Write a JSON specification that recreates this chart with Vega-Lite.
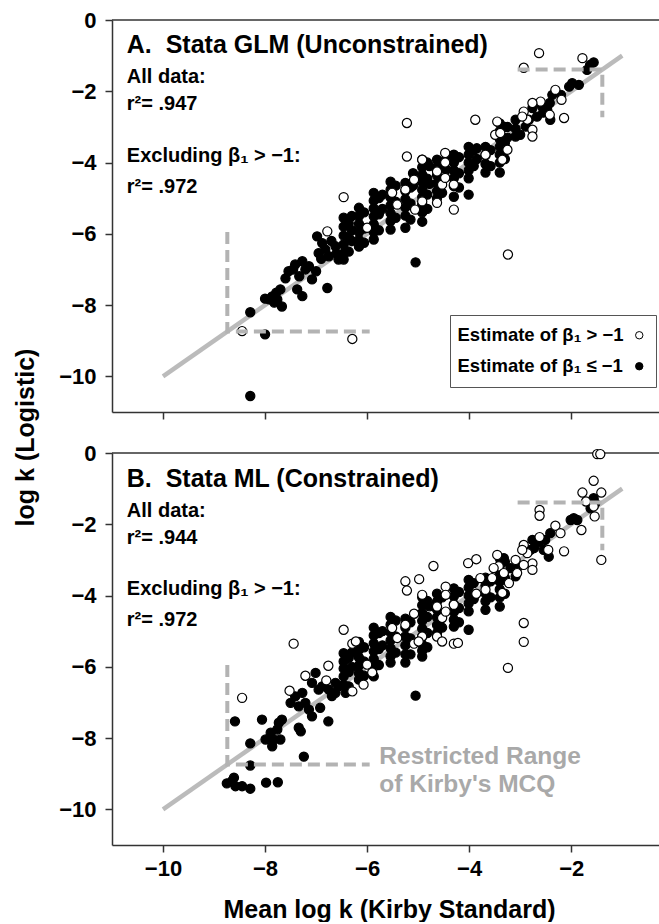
{
"$schema":"https://vega.github.io/schema/vega-lite/v6.json",
"padding":{"left":13,"top":9,"right":0,"bottom":0},
"spacing":41,
"bounds":"flush",
"datasets":{
"diag":[{"x":-10,"y":-10},{"x":-1,"y":-1}],
"range":[{"seg":"lo","i":0,"x":-8.74,"y":-5.95},{"seg":"lo","i":1,"x":-8.74,"y":-8.74},{"seg":"lo","i":2,"x":-5.95,"y":-8.74},{"seg":"hi","i":0,"x":-3.05,"y":-1.39},{"seg":"hi","i":1,"x":-1.39,"y":-1.39},{"seg":"hi","i":2,"x":-1.39,"y":-2.73}],
"ptsA":[
{"x":-8.29,"y":-8.2,"b":"le"},{"x":-8.0,"y":-8.82,"b":"le"},{"x":-8.29,"y":-10.55,"b":"le"},{"x":-8.0,"y":-7.82,"b":"le"},{"x":-7.86,"y":-7.76,"b":"le"},{"x":-7.82,"y":-7.93,"b":"le"},{"x":-7.67,"y":-8.04,"b":"le"},{"x":-7.76,"y":-7.84,"b":"le"},{"x":-7.7,"y":-7.56,"b":"le"},{"x":-7.92,"y":-7.84,"b":"le"},{"x":-7.78,"y":-7.65,"b":"le"},
{"x":-7.54,"y":-7.05,"b":"le"},{"x":-7.41,"y":-6.86,"b":"le"},{"x":-7.27,"y":-6.77,"b":"le"},{"x":-7.21,"y":-7.0,"b":"le"},{"x":-7.33,"y":-7.19,"b":"le"},{"x":-7.08,"y":-7.28,"b":"le"},{"x":-7.37,"y":-7.56,"b":"le"},{"x":-7.27,"y":-7.75,"b":"le"},{"x":-7.14,"y":-6.91,"b":"le"},{"x":-7.45,"y":-7.0,"b":"le"},{"x":-7.6,"y":-7.25,"b":"le"},{"x":-7.0,"y":-7.05,"b":"le"},{"x":-6.78,"y":-7.52,"b":"le"},
{"x":-6.98,"y":-6.07,"b":"le"},{"x":-6.88,"y":-6.26,"b":"le"},{"x":-6.95,"y":-6.54,"b":"le"},{"x":-6.82,"y":-6.44,"b":"le"},{"x":-6.75,"y":-6.63,"b":"le"},{"x":-6.62,"y":-6.35,"b":"le"},{"x":-6.56,"y":-6.72,"b":"le"},{"x":-6.7,"y":-6.2,"b":"le"},{"x":-6.9,"y":-6.7,"b":"le"},{"x":-6.6,"y":-6.55,"b":"le"},
{"x":-6.46,"y":-5.55,"b":"le"},{"x":-6.46,"y":-5.8,"b":"le"},{"x":-6.46,"y":-6.05,"b":"le"},{"x":-6.46,"y":-6.3,"b":"le"},{"x":-6.46,"y":-6.55,"b":"le"},{"x":-6.46,"y":-6.72,"b":"le"},
{"x":-6.36,"y":-5.7,"b":"le"},{"x":-6.36,"y":-6.1,"b":"le"},{"x":-6.36,"y":-6.5,"b":"le"},
{"x":-6.3,"y":-5.5,"b":"le"},{"x":-6.3,"y":-5.9,"b":"le"},{"x":-6.3,"y":-6.2,"b":"le"},
{"x":-6.16,"y":-5.27,"b":"le"},{"x":-6.16,"y":-5.5,"b":"le"},{"x":-6.16,"y":-5.72,"b":"le"},{"x":-6.16,"y":-5.95,"b":"le"},{"x":-6.16,"y":-6.17,"b":"le"},{"x":-6.16,"y":-6.36,"b":"le"},
{"x":-6.06,"y":-5.4,"b":"le"},{"x":-6.06,"y":-5.85,"b":"le"},{"x":-6.06,"y":-6.25,"b":"le"},
{"x":-5.87,"y":-4.85,"b":"le"},{"x":-5.87,"y":-5.07,"b":"le"},{"x":-5.87,"y":-5.29,"b":"le"},{"x":-5.87,"y":-5.51,"b":"le"},{"x":-5.87,"y":-5.73,"b":"le"},{"x":-5.87,"y":-5.95,"b":"le"},{"x":-5.87,"y":-6.16,"b":"le"},
{"x":-5.77,"y":-5.0,"b":"le"},{"x":-5.77,"y":-5.45,"b":"le"},{"x":-5.77,"y":-5.9,"b":"le"},
{"x":-5.7,"y":-4.9,"b":"le"},{"x":-5.7,"y":-5.3,"b":"le"},
{"x":-5.54,"y":-4.54,"b":"le"},{"x":-5.54,"y":-4.76,"b":"le"},{"x":-5.54,"y":-4.98,"b":"le"},{"x":-5.54,"y":-5.2,"b":"le"},{"x":-5.54,"y":-5.42,"b":"le"},{"x":-5.54,"y":-5.64,"b":"le"},{"x":-5.54,"y":-5.88,"b":"le"},
{"x":-5.44,"y":-4.65,"b":"le"},{"x":-5.44,"y":-5.1,"b":"le"},{"x":-5.44,"y":-5.55,"b":"le"},
{"x":-5.25,"y":-4.57,"b":"le"},{"x":-5.25,"y":-4.8,"b":"le"},{"x":-5.25,"y":-5.03,"b":"le"},{"x":-5.25,"y":-5.26,"b":"le"},{"x":-5.25,"y":-5.49,"b":"le"},{"x":-5.25,"y":-5.83,"b":"le"},
{"x":-5.15,"y":-4.7,"b":"le"},{"x":-5.15,"y":-5.15,"b":"le"},{"x":-5.15,"y":-5.6,"b":"le"},
{"x":-5.1,"y":-4.3,"b":"le"},{"x":-5.1,"y":-4.65,"b":"le"},{"x":-5.05,"y":-6.8,"b":"le"},
{"x":-4.92,"y":-3.92,"b":"le"},{"x":-4.92,"y":-4.13,"b":"le"},{"x":-4.92,"y":-4.34,"b":"le"},{"x":-4.92,"y":-4.55,"b":"le"},{"x":-4.92,"y":-4.76,"b":"le"},{"x":-4.92,"y":-4.97,"b":"le"},{"x":-4.92,"y":-5.18,"b":"le"},{"x":-4.92,"y":-5.4,"b":"le"},{"x":-4.92,"y":-5.66,"b":"le"},
{"x":-4.82,"y":-4.0,"b":"le"},{"x":-4.82,"y":-4.45,"b":"le"},{"x":-4.82,"y":-4.9,"b":"le"},{"x":-4.82,"y":-5.3,"b":"le"},
{"x":-4.78,"y":-4.1,"b":"le"},{"x":-4.78,"y":-4.6,"b":"le"},
{"x":-4.63,"y":-3.92,"b":"le"},{"x":-4.63,"y":-4.14,"b":"le"},{"x":-4.63,"y":-4.36,"b":"le"},{"x":-4.63,"y":-4.58,"b":"le"},{"x":-4.63,"y":-4.8,"b":"le"},{"x":-4.63,"y":-5.0,"b":"le"},
{"x":-4.53,"y":-4.0,"b":"le"},{"x":-4.53,"y":-4.45,"b":"le"},{"x":-4.53,"y":-4.85,"b":"le"},
{"x":-4.45,"y":-3.9,"b":"le"},{"x":-4.45,"y":-4.2,"b":"le"},
{"x":-4.3,"y":-3.78,"b":"le"},{"x":-4.3,"y":-4.0,"b":"le"},{"x":-4.3,"y":-4.22,"b":"le"},{"x":-4.3,"y":-4.44,"b":"le"},{"x":-4.3,"y":-4.66,"b":"le"},{"x":-4.3,"y":-4.96,"b":"le"},
{"x":-4.2,"y":-3.85,"b":"le"},{"x":-4.2,"y":-4.3,"b":"le"},{"x":-4.2,"y":-4.7,"b":"le"},
{"x":-4.01,"y":-3.56,"b":"le"},{"x":-4.01,"y":-3.78,"b":"le"},{"x":-4.01,"y":-4.0,"b":"le"},{"x":-4.01,"y":-4.22,"b":"le"},{"x":-4.01,"y":-4.44,"b":"le"},{"x":-4.01,"y":-4.9,"b":"le"},
{"x":-3.91,"y":-3.65,"b":"le"},{"x":-3.91,"y":-4.1,"b":"le"},
{"x":-3.85,"y":-3.6,"b":"le"},{"x":-3.85,"y":-3.9,"b":"le"},
{"x":-3.68,"y":-3.56,"b":"le"},{"x":-3.68,"y":-3.8,"b":"le"},{"x":-3.68,"y":-4.04,"b":"le"},{"x":-3.68,"y":-4.28,"b":"le"},
{"x":-3.58,"y":-3.65,"b":"le"},{"x":-3.58,"y":-4.1,"b":"le"},
{"x":-3.4,"y":-2.9,"b":"le"},{"x":-3.4,"y":-3.12,"b":"le"},{"x":-3.4,"y":-3.34,"b":"le"},{"x":-3.4,"y":-3.56,"b":"le"},{"x":-3.4,"y":-3.78,"b":"le"},{"x":-3.4,"y":-4.0,"b":"le"},{"x":-3.4,"y":-4.28,"b":"le"},
{"x":-3.3,"y":-3.0,"b":"le"},{"x":-3.3,"y":-3.45,"b":"le"},{"x":-3.3,"y":-3.9,"b":"le"},
{"x":-3.25,"y":-3.0,"b":"le"},{"x":-3.25,"y":-3.3,"b":"le"},{"x":-3.09,"y":-2.8,"b":"le"},{"x":-3.09,"y":-3.05,"b":"le"},{"x":-3.09,"y":-3.27,"b":"le"},{"x":-2.83,"y":-2.8,"b":"le"},{"x":-2.89,"y":-2.99,"b":"le"},{"x":-3.0,"y":-3.22,"b":"le"},
{"x":-2.37,"y":-2.1,"b":"le"},{"x":-2.42,"y":-2.33,"b":"le"},{"x":-2.57,"y":-2.43,"b":"le"},{"x":-2.76,"y":-2.47,"b":"le"},{"x":-2.67,"y":-2.71,"b":"le"},{"x":-2.47,"y":-2.52,"b":"le"},{"x":-2.41,"y":-2.8,"b":"le"},{"x":-2.55,"y":-2.6,"b":"le"},{"x":-2.2,"y":-2.1,"b":"le"},
{"x":-1.98,"y":-1.77,"b":"le"},{"x":-1.85,"y":-1.82,"b":"le"},{"x":-2.04,"y":-1.87,"b":"le"},{"x":-1.56,"y":-1.19,"b":"le"},{"x":-1.69,"y":-1.4,"b":"le"},{"x":-1.63,"y":-1.26,"b":"le"},
{"x":-8.45,"y":-8.73,"b":"gt"},{"x":-6.29,"y":-8.95,"b":"gt"},{"x":-6.78,"y":-5.93,"b":"gt"},{"x":-6.46,"y":-4.97,"b":"gt"},{"x":-6.0,"y":-5.83,"b":"gt"},{"x":-5.51,"y":-4.85,"b":"gt"},{"x":-5.41,"y":-5.18,"b":"gt"},{"x":-5.25,"y":-4.76,"b":"gt"},{"x":-5.08,"y":-4.48,"b":"gt"},{"x":-5.06,"y":-5.32,"b":"gt"},
{"x":-4.92,"y":-3.92,"b":"gt"},{"x":-4.92,"y":-5.09,"b":"gt"},{"x":-4.63,"y":-4.25,"b":"gt"},{"x":-4.53,"y":-4.62,"b":"gt"},{"x":-4.63,"y":-5.13,"b":"gt"},{"x":-4.47,"y":-3.73,"b":"gt"},{"x":-4.47,"y":-4.0,"b":"gt"},{"x":-4.47,"y":-4.43,"b":"gt"},{"x":-4.3,"y":-4.62,"b":"gt"},{"x":-4.3,"y":-5.32,"b":"gt"},
{"x":-3.88,"y":-2.8,"b":"gt"},{"x":-3.68,"y":-3.78,"b":"gt"},{"x":-3.45,"y":-2.85,"b":"gt"},{"x":-3.49,"y":-3.22,"b":"gt"},{"x":-3.39,"y":-3.17,"b":"gt"},{"x":-3.25,"y":-3.64,"b":"gt"},{"x":-3.35,"y":-3.92,"b":"gt"},{"x":-5.22,"y":-2.89,"b":"gt"},{"x":-5.22,"y":-3.83,"b":"gt"},{"x":-3.24,"y":-6.58,"b":"gt"},
{"x":-2.63,"y":-0.93,"b":"gt"},{"x":-2.93,"y":-1.34,"b":"gt"},{"x":-1.78,"y":-1.07,"b":"gt"},{"x":-2.31,"y":-1.96,"b":"gt"},{"x":-2.19,"y":-2.24,"b":"gt"},{"x":-2.6,"y":-2.29,"b":"gt"},{"x":-2.14,"y":-2.75,"b":"gt"},{"x":-2.93,"y":-2.57,"b":"gt"},{"x":-2.86,"y":-2.8,"b":"gt"},{"x":-2.76,"y":-3.08,"b":"gt"},{"x":-2.76,"y":-3.27,"b":"gt"},{"x":-2.96,"y":-2.71,"b":"gt"},{"x":-2.76,"y":-2.33,"b":"gt"},{"x":-2.42,"y":-2.66,"b":"gt"}
],
"ptsB":[
{"x":-8.59,"y":-7.53,"b":"le"},{"x":-8.06,"y":-7.48,"b":"le"},{"x":-8.29,"y":-8.15,"b":"le"},{"x":-8.29,"y":-8.77,"b":"le"},{"x":-8.75,"y":-9.27,"b":"le"},{"x":-8.61,"y":-9.11,"b":"le"},{"x":-8.58,"y":-9.35,"b":"le"},{"x":-8.45,"y":-9.35,"b":"le"},{"x":-8.29,"y":-9.42,"b":"le"},{"x":-8.65,"y":-9.21,"b":"le"},{"x":-7.98,"y":-9.25,"b":"le"},{"x":-7.75,"y":-9.24,"b":"le"},{"x":-7.24,"y":-8.52,"b":"le"},
{"x":-7.99,"y":-8.04,"b":"le"},{"x":-7.89,"y":-7.85,"b":"le"},{"x":-7.83,"y":-8.04,"b":"le"},{"x":-7.76,"y":-7.76,"b":"le"},{"x":-7.67,"y":-7.48,"b":"le"},{"x":-7.7,"y":-8.04,"b":"le"},{"x":-7.86,"y":-8.23,"b":"le"},{"x":-7.73,"y":-7.57,"b":"le"},{"x":-7.34,"y":-7.71,"b":"le"},{"x":-7.3,"y":-7.81,"b":"le"},
{"x":-7.5,"y":-7.01,"b":"le"},{"x":-7.41,"y":-6.83,"b":"le"},{"x":-7.27,"y":-6.73,"b":"le"},{"x":-7.21,"y":-7.01,"b":"le"},{"x":-7.14,"y":-7.2,"b":"le"},{"x":-7.08,"y":-7.39,"b":"le"},{"x":-7.34,"y":-7.11,"b":"le"},{"x":-6.92,"y":-7.15,"b":"le"},{"x":-6.76,"y":-7.53,"b":"le"},
{"x":-7.01,"y":-6.17,"b":"le"},{"x":-7.08,"y":-6.45,"b":"le"},{"x":-6.95,"y":-6.64,"b":"le"},{"x":-6.88,"y":-6.55,"b":"le"},{"x":-6.75,"y":-6.64,"b":"le"},{"x":-6.69,"y":-6.82,"b":"le"},{"x":-6.62,"y":-6.73,"b":"le"},{"x":-6.56,"y":-6.55,"b":"le"},{"x":-6.62,"y":-6.45,"b":"le"},
{"x":-6.46,"y":-5.62,"b":"le"},{"x":-6.46,"y":-5.85,"b":"le"},{"x":-6.46,"y":-6.05,"b":"le"},{"x":-6.46,"y":-6.27,"b":"le"},{"x":-6.46,"y":-6.5,"b":"le"},{"x":-6.42,"y":-6.73,"b":"le"},
{"x":-6.36,"y":-5.75,"b":"le"},{"x":-6.36,"y":-6.15,"b":"le"},{"x":-6.36,"y":-6.55,"b":"le"},
{"x":-6.3,"y":-5.6,"b":"le"},{"x":-6.3,"y":-6.0,"b":"le"},
{"x":-6.16,"y":-5.3,"b":"le"},{"x":-6.16,"y":-5.52,"b":"le"},{"x":-6.16,"y":-5.74,"b":"le"},{"x":-6.16,"y":-5.96,"b":"le"},{"x":-6.16,"y":-6.18,"b":"le"},{"x":-6.16,"y":-6.36,"b":"le"},
{"x":-6.06,"y":-5.45,"b":"le"},{"x":-6.06,"y":-5.85,"b":"le"},{"x":-6.06,"y":-6.25,"b":"le"},
{"x":-5.87,"y":-4.9,"b":"le"},{"x":-5.87,"y":-5.12,"b":"le"},{"x":-5.87,"y":-5.34,"b":"le"},{"x":-5.87,"y":-5.56,"b":"le"},{"x":-5.87,"y":-5.78,"b":"le"},{"x":-5.87,"y":-6.0,"b":"le"},{"x":-5.87,"y":-6.27,"b":"le"},
{"x":-5.77,"y":-5.05,"b":"le"},{"x":-5.77,"y":-5.5,"b":"le"},{"x":-5.77,"y":-5.95,"b":"le"},
{"x":-5.7,"y":-5.0,"b":"le"},{"x":-5.7,"y":-5.4,"b":"le"},
{"x":-5.54,"y":-4.6,"b":"le"},{"x":-5.54,"y":-4.82,"b":"le"},{"x":-5.54,"y":-5.04,"b":"le"},{"x":-5.54,"y":-5.26,"b":"le"},{"x":-5.54,"y":-5.48,"b":"le"},{"x":-5.54,"y":-5.7,"b":"le"},{"x":-5.54,"y":-5.88,"b":"le"},
{"x":-5.44,"y":-4.7,"b":"le"},{"x":-5.44,"y":-5.15,"b":"le"},{"x":-5.44,"y":-5.6,"b":"le"},
{"x":-5.25,"y":-4.65,"b":"le"},{"x":-5.25,"y":-4.9,"b":"le"},{"x":-5.25,"y":-5.15,"b":"le"},{"x":-5.25,"y":-5.4,"b":"le"},{"x":-5.25,"y":-5.65,"b":"le"},{"x":-5.25,"y":-5.88,"b":"le"},
{"x":-5.15,"y":-4.75,"b":"le"},{"x":-5.15,"y":-5.2,"b":"le"},{"x":-5.15,"y":-5.65,"b":"le"},
{"x":-4.92,"y":-4.05,"b":"le"},{"x":-4.92,"y":-4.27,"b":"le"},{"x":-4.92,"y":-4.49,"b":"le"},{"x":-4.92,"y":-4.71,"b":"le"},{"x":-4.92,"y":-4.93,"b":"le"},{"x":-4.92,"y":-5.15,"b":"le"},{"x":-4.92,"y":-5.37,"b":"le"},{"x":-4.92,"y":-5.55,"b":"le"},{"x":-4.92,"y":-5.71,"b":"le"},
{"x":-4.82,"y":-4.15,"b":"le"},{"x":-4.82,"y":-4.6,"b":"le"},{"x":-4.82,"y":-5.05,"b":"le"},{"x":-4.82,"y":-5.45,"b":"le"},
{"x":-4.78,"y":-4.3,"b":"le"},
{"x":-4.63,"y":-3.95,"b":"le"},{"x":-4.63,"y":-4.17,"b":"le"},{"x":-4.63,"y":-4.39,"b":"le"},{"x":-4.63,"y":-4.61,"b":"le"},{"x":-4.63,"y":-4.83,"b":"le"},{"x":-4.63,"y":-5.05,"b":"le"},
{"x":-4.53,"y":-4.05,"b":"le"},{"x":-4.53,"y":-4.5,"b":"le"},{"x":-4.53,"y":-4.9,"b":"le"},
{"x":-4.3,"y":-3.8,"b":"le"},{"x":-4.3,"y":-4.02,"b":"le"},{"x":-4.3,"y":-4.24,"b":"le"},{"x":-4.3,"y":-4.46,"b":"le"},{"x":-4.3,"y":-4.68,"b":"le"},{"x":-4.3,"y":-4.87,"b":"le"},
{"x":-4.2,"y":-3.9,"b":"le"},{"x":-4.2,"y":-4.35,"b":"le"},{"x":-4.2,"y":-4.75,"b":"le"},
{"x":-4.01,"y":-3.56,"b":"le"},{"x":-4.01,"y":-3.78,"b":"le"},{"x":-4.01,"y":-4.0,"b":"le"},{"x":-4.01,"y":-4.22,"b":"le"},{"x":-4.01,"y":-4.44,"b":"le"},{"x":-4.01,"y":-4.96,"b":"le"},
{"x":-3.91,"y":-3.65,"b":"le"},{"x":-3.91,"y":-4.1,"b":"le"},
{"x":-3.68,"y":-3.5,"b":"le"},{"x":-3.68,"y":-3.72,"b":"le"},{"x":-3.68,"y":-3.94,"b":"le"},{"x":-3.68,"y":-4.16,"b":"le"},{"x":-3.68,"y":-4.4,"b":"le"},
{"x":-3.58,"y":-3.6,"b":"le"},{"x":-3.58,"y":-4.05,"b":"le"},
{"x":-3.4,"y":-2.95,"b":"le"},{"x":-3.4,"y":-3.17,"b":"le"},{"x":-3.4,"y":-3.39,"b":"le"},{"x":-3.4,"y":-3.61,"b":"le"},{"x":-3.4,"y":-3.83,"b":"le"},{"x":-3.4,"y":-4.05,"b":"le"},{"x":-3.4,"y":-4.31,"b":"le"},
{"x":-3.3,"y":-3.05,"b":"le"},{"x":-3.3,"y":-3.5,"b":"le"},{"x":-3.3,"y":-3.95,"b":"le"},
{"x":-5.05,"y":-6.81,"b":"le"},{"x":-3.38,"y":-3.04,"b":"le"},{"x":-3.32,"y":-2.95,"b":"le"},{"x":-3.19,"y":-3.23,"b":"le"},{"x":-3.09,"y":-3.46,"b":"le"},{"x":-3.03,"y":-3.18,"b":"le"},
{"x":-2.41,"y":-2.25,"b":"le"},{"x":-2.51,"y":-2.44,"b":"le"},{"x":-2.63,"y":-2.49,"b":"le"},{"x":-2.76,"y":-2.44,"b":"le"},{"x":-2.73,"y":-2.67,"b":"le"},{"x":-2.54,"y":-2.72,"b":"le"},{"x":-2.44,"y":-2.91,"b":"le"},{"x":-2.8,"y":-2.72,"b":"le"},
{"x":-2.01,"y":-1.88,"b":"le"},{"x":-1.88,"y":-1.88,"b":"le"},{"x":-1.95,"y":-1.83,"b":"le"},{"x":-1.56,"y":-1.27,"b":"le"},{"x":-1.62,"y":-1.55,"b":"le"},{"x":-1.53,"y":-1.41,"b":"le"},
{"x":-8.45,"y":-6.87,"b":"gt"},{"x":-7.44,"y":-5.35,"b":"gt"},{"x":-7.21,"y":-6.25,"b":"gt"},{"x":-7.52,"y":-6.67,"b":"gt"},{"x":-6.76,"y":-5.97,"b":"gt"},{"x":-6.8,"y":-6.38,"b":"gt"},{"x":-6.29,"y":-6.69,"b":"gt"},{"x":-6.07,"y":-6.5,"b":"gt"},{"x":-6.46,"y":-4.96,"b":"gt"},{"x":-6.29,"y":-5.35,"b":"gt"},{"x":-6.22,"y":-5.29,"b":"gt"},{"x":-6.0,"y":-5.94,"b":"gt"},{"x":-5.9,"y":-6.16,"b":"gt"},
{"x":-5.51,"y":-4.91,"b":"gt"},{"x":-5.41,"y":-5.19,"b":"gt"},{"x":-5.25,"y":-3.6,"b":"gt"},{"x":-5.22,"y":-3.86,"b":"gt"},{"x":-4.98,"y":-3.54,"b":"gt"},{"x":-4.7,"y":-3.17,"b":"gt"},{"x":-5.25,"y":-4.82,"b":"gt"},{"x":-5.08,"y":-4.51,"b":"gt"},{"x":-5.08,"y":-5.35,"b":"gt"},{"x":-4.92,"y":-3.98,"b":"gt"},{"x":-4.92,"y":-5.15,"b":"gt"},{"x":-4.99,"y":-5.29,"b":"gt"},
{"x":-4.63,"y":-4.31,"b":"gt"},{"x":-4.53,"y":-4.63,"b":"gt"},{"x":-4.63,"y":-5.15,"b":"gt"},{"x":-4.53,"y":-5.29,"b":"gt"},{"x":-4.46,"y":-3.75,"b":"gt"},{"x":-4.46,"y":-3.98,"b":"gt"},{"x":-4.46,"y":-4.45,"b":"gt"},{"x":-4.3,"y":-4.26,"b":"gt"},{"x":-4.3,"y":-5.35,"b":"gt"},{"x":-4.22,"y":-5.33,"b":"gt"},
{"x":-4.02,"y":-3.09,"b":"gt"},{"x":-3.86,"y":-2.98,"b":"gt"},{"x":-3.78,"y":-3.51,"b":"gt"},{"x":-3.86,"y":-3.95,"b":"gt"},{"x":-3.68,"y":-3.84,"b":"gt"},{"x":-3.55,"y":-3.51,"b":"gt"},{"x":-3.45,"y":-2.86,"b":"gt"},{"x":-3.42,"y":-3.18,"b":"gt"},{"x":-3.32,"y":-3.37,"b":"gt"},{"x":-3.22,"y":-3.65,"b":"gt"},{"x":-3.35,"y":-3.93,"b":"gt"},{"x":-3.52,"y":-3.23,"b":"gt"},
{"x":-3.24,"y":-6.03,"b":"gt"},{"x":-2.93,"y":-4.77,"b":"gt"},{"x":-2.93,"y":-5.3,"b":"gt"},
{"x":-1.49,"y":-0.03,"b":"gt"},{"x":-1.43,"y":-0.03,"b":"gt"},{"x":-1.56,"y":-0.78,"b":"gt"},{"x":-1.78,"y":-1.11,"b":"gt"},{"x":-1.71,"y":-1.36,"b":"gt"},{"x":-1.56,"y":-1.5,"b":"gt"},{"x":-1.54,"y":-1.78,"b":"gt"},{"x":-1.41,"y":-1.11,"b":"gt"},{"x":-2.62,"y":-1.6,"b":"gt"},{"x":-2.62,"y":-1.76,"b":"gt"},{"x":-1.41,"y":-3.0,"b":"gt"},{"x":-1.8,"y":-2.16,"b":"gt"},
{"x":-2.31,"y":-2.04,"b":"gt"},{"x":-2.21,"y":-2.25,"b":"gt"},{"x":-2.62,"y":-2.36,"b":"gt"},{"x":-2.45,"y":-2.72,"b":"gt"},{"x":-2.14,"y":-2.76,"b":"gt"},{"x":-2.93,"y":-2.58,"b":"gt"},{"x":-2.86,"y":-2.81,"b":"gt"},{"x":-2.76,"y":-3.1,"b":"gt"},{"x":-2.76,"y":-3.28,"b":"gt"},{"x":-2.96,"y":-2.72,"b":"gt"},{"x":-3.09,"y":-3.0,"b":"gt"},{"x":-2.93,"y":-3.14,"b":"gt"},{"x":-3.06,"y":-3.37,"b":"gt"}
]
},
"vconcat":[
{
"width":549,"height":392,
"layer":[
{"data":{"values":[{}]},"mark":{"type":"rule","color":"#333","strokeWidth":1.5},"encoding":{"x":{"datum":-11,"type":"quantitative"},"x2":{"datum":-0.24},"y":{"datum":0,"type":"quantitative"}}},
{"data":{"name":"diag"},"mark":{"type":"line","color":"#bbbbbb","strokeWidth":4.5},
 "encoding":{"x":{"field":"x","type":"quantitative","scale":{"domain":[-11,-0.24],"nice":false,"zero":false},"axis":{"values":[-10,-8,-6,-4,-2],"labels":false,"title":null}},
  "y":{"field":"y","type":"quantitative","scale":{"domain":[-11,0],"nice":false,"zero":false},"axis":{"values":[0,-2,-4,-6,-8,-10],"title":"log k (Logistic)","titleX":-79,"titleY":417,"titleBaseline":"alphabetic","titleAngle":270,"titleAlign":"center"}}}},
{"data":{"name":"ptsA"},"mark":{"type":"point","shape":"circle","filled":true,"size":84,"stroke":"black","strokeWidth":1.2,"opacity":1},
 "encoding":{"x":{"field":"x","type":"quantitative"},"y":{"field":"y","type":"quantitative"},
 "fill":{"field":"b","type":"nominal","scale":{"domain":["gt","le"],"range":["white","black"]},"legend":{"orient":"none","legendX":338,"legendY":295,"title":null,"labelExpr":"datum.value === 'gt' ? 'Estimate of β₁ > −1' : 'Estimate of β₁ ≤ −1'","labelLimit":300,"symbolOffset":169,"labelOffset":-191,"symbolSize":55,"symbolType":"circle","symbolStrokeColor":"black","symbolStrokeWidth":1,"symbolOpacity":1,"labelFontSize":18.5,"labelFont":"Liberation Sans","labelFontWeight":"bold","labelColor":"black","rowPadding":12,"padding":11,"strokeColor":"#555","fillColor":"white"}}}},
{"data":{"name":"range"},"mark":{"type":"line","color":"#b3b3b3","strokeWidth":4,"strokeDash":[12,6]},"encoding":{"x":{"field":"x","type":"quantitative"},"y":{"field":"y","type":"quantitative"},"detail":{"field":"seg"},"order":{"field":"i"}}},
{"data":{"values":[{}]},"mark":{"type":"text","text":"A.\u00a0 Stata GLM (Unconstrained)","align":"left","baseline":"alphabetic","fontSize":25,"fontWeight":"bold","font":"Liberation Sans","color":"black"},"encoding":{"x":{"datum":-10.71,"type":"quantitative"},"y":{"datum":-0.92,"type":"quantitative"}}},
{"data":{"values":[{}]},"mark":{"type":"text","text":["All data:","r²= .947"],"lineHeight":27,"align":"left","baseline":"alphabetic","fontSize":20,"fontWeight":"bold","font":"Liberation Sans","color":"black"},"encoding":{"x":{"datum":-10.71,"type":"quantitative"},"y":{"datum":-1.77,"type":"quantitative"}}},
{"data":{"values":[{}]},"mark":{"type":"text","text":["Excluding β₁ > −1:","r²= .972"],"lineHeight":31,"align":"left","baseline":"alphabetic","fontSize":20,"fontWeight":"bold","font":"Liberation Sans","color":"black"},"encoding":{"x":{"datum":-10.71,"type":"quantitative"},"y":{"datum":-3.98,"type":"quantitative"}}}
]
},
{
"width":549,"height":392,
"layer":[
{"data":{"values":[{}]},"mark":{"type":"rule","color":"#333","strokeWidth":1.5},"encoding":{"x":{"datum":-11,"type":"quantitative"},"x2":{"datum":-0.24},"y":{"datum":0,"type":"quantitative"}}},
{"data":{"name":"diag"},"mark":{"type":"line","color":"#bbbbbb","strokeWidth":4.5},
 "encoding":{"x":{"field":"x","type":"quantitative","scale":{"domain":[-11,-0.24],"nice":false,"zero":false},"axis":{"values":[-10,-8,-6,-4,-2],"title":"Mean log k (Kirby Standard)","titleX":277,"titleY":72,"titleBaseline":"alphabetic","labelPadding":6}},
  "y":{"field":"y","type":"quantitative","scale":{"domain":[-11,0],"nice":false,"zero":false},"axis":{"values":[0,-2,-4,-6,-8,-10],"title":null}}}},
{"data":{"name":"ptsB"},"mark":{"type":"point","shape":"circle","filled":true,"size":84,"stroke":"black","strokeWidth":1.2,"opacity":1},
 "encoding":{"x":{"field":"x","type":"quantitative"},"y":{"field":"y","type":"quantitative"},
 "fill":{"field":"b","type":"nominal","scale":{"domain":["gt","le"],"range":["white","black"]},"legend":{"orient":"none","legendX":338,"legendY":295,"title":null,"labelExpr":"datum.value === 'gt' ? 'Estimate of β₁ > −1' : 'Estimate of β₁ ≤ −1'","labelLimit":300,"symbolOffset":169,"labelOffset":-191,"symbolSize":55,"symbolType":"circle","symbolStrokeColor":"black","symbolStrokeWidth":1,"symbolOpacity":1,"labelFontSize":18.5,"labelFont":"Liberation Sans","labelFontWeight":"bold","labelColor":"black","rowPadding":12,"padding":11,"strokeColor":"#555","fillColor":"white"}}}},
{"data":{"name":"range"},"mark":{"type":"line","color":"#b3b3b3","strokeWidth":4,"strokeDash":[12,6]},"encoding":{"x":{"field":"x","type":"quantitative"},"y":{"field":"y","type":"quantitative"},"detail":{"field":"seg"},"order":{"field":"i"}}},
{"data":{"values":[{}]},"mark":{"type":"text","text":"B.\u00a0 Stata ML (Constrained)","align":"left","baseline":"alphabetic","fontSize":25,"fontWeight":"bold","font":"Liberation Sans","color":"black"},"encoding":{"x":{"datum":-10.71,"type":"quantitative"},"y":{"datum":-0.95,"type":"quantitative"}}},
{"data":{"values":[{}]},"mark":{"type":"text","text":["All data:","r²= .944"],"lineHeight":27,"align":"left","baseline":"alphabetic","fontSize":20,"fontWeight":"bold","font":"Liberation Sans","color":"black"},"encoding":{"x":{"datum":-10.71,"type":"quantitative"},"y":{"datum":-1.79,"type":"quantitative"}}},
{"data":{"values":[{}]},"mark":{"type":"text","text":["Excluding β₁ > −1:","r²= .972"],"lineHeight":31,"align":"left","baseline":"alphabetic","fontSize":20,"fontWeight":"bold","font":"Liberation Sans","color":"black"},"encoding":{"x":{"datum":-10.71,"type":"quantitative"},"y":{"datum":-3.98,"type":"quantitative"}}},
{"data":{"values":[{}]},"mark":{"type":"text","text":["Restricted Range","of Kirby's MCQ"],"lineHeight":28,"align":"left","baseline":"alphabetic","fontSize":24.5,"fontWeight":"bold","font":"Liberation Sans","color":"#a9a9a9"},"encoding":{"x":{"datum":-5.76,"type":"quantitative"},"y":{"datum":-8.74,"type":"quantitative"}}}
]
}
],
"config":{
"view":{"stroke":null},
"font":"Liberation Sans",
"axis":{"grid":false,"domainColor":"#333","domainWidth":1.5,"tickColor":"#333","tickWidth":1.5,"tickSize":7,"labelFont":"Liberation Sans","labelFontSize":22,"labelFontWeight":"bold","labelColor":"black","labelPadding":9,"titleFont":"Liberation Sans","titleFontSize":25,"titleFontWeight":"bold","titleColor":"black"}
}
}
